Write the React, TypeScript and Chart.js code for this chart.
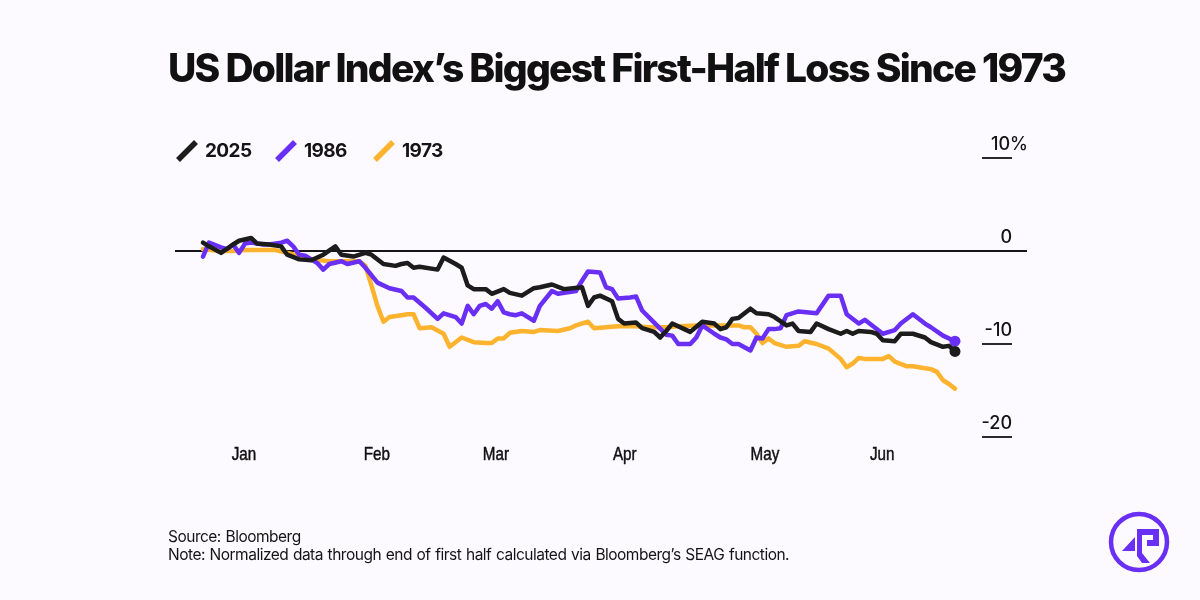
import React, { useEffect, useRef } from "react";
import { Chart, registerables } from "chart.js";

Chart.register(...registerables);

// ---------- data (trading-day index, % change) ----------
const seriesNames = ["2025", "1986", "1973"];

const days2025 = [0, 1, 3, 5, 6, 8, 9, 11, 13, 14, 16, 18, 20, 22, 23, 25, 27, 28, 30, 32, 33, 34, 35, 36, 39, 40, 42, 43, 44, 45, 47, 48, 50, 51, 53, 55, 56, 58, 60, 63, 64, 65, 66, 68, 69, 70, 72, 73, 75, 76, 77, 78, 80, 81, 83, 85, 86, 87, 88, 89, 91, 92, 94, 95, 97, 98, 99, 101, 102, 104, 106, 107, 108, 109, 111, 112, 113, 115, 116, 118, 120, 121, 123, 124, 125];
const values2025 = [0.9, 0.5, -0.2, 0.7, 1.1, 1.4, 0.8, 0.7, 0.5, -0.4, -0.9, -1.0, -0.4, 0.5, -0.4, -0.6, -0.2, -0.4, -1.4, -1.6, -1.4, -1.3, -1.8, -1.7, -2.0, -0.7, -1.4, -1.8, -3.7, -4.1, -4.1, -4.6, -4.1, -4.5, -4.8, -4.0, -3.9, -3.6, -4.1, -3.9, -5.9, -5.0, -4.8, -5.4, -7.3, -7.8, -7.7, -8.3, -8.7, -9.3, -8.6, -7.8, -8.4, -8.7, -7.6, -7.8, -8.4, -8.2, -7.3, -7.2, -6.2, -6.7, -6.8, -7.1, -8.0, -7.8, -8.6, -8.7, -7.8, -8.4, -8.9, -8.6, -8.9, -8.6, -8.7, -8.9, -9.6, -9.7, -8.9, -8.9, -9.3, -9.8, -10.3, -10.2, -10.8];

const days1986 = [0, 1, 3, 4, 5, 6, 7, 8, 10, 11, 13, 14, 15, 16, 17, 19, 20, 21, 23, 24, 26, 27, 29, 31, 33, 34, 35, 37, 39, 40, 42, 43, 44, 45, 46, 47, 48, 49, 50, 51, 52, 53, 55, 56, 58, 59, 62, 63, 64, 66, 67, 68, 69, 71, 72, 73, 75, 77, 78, 79, 81, 82, 83, 85, 86, 87, 88, 89, 91, 92, 93, 94, 95, 96, 97, 99, 102, 104, 106, 107, 109, 110, 113, 115, 116, 118, 120, 121, 123, 125];
const values1986 = [-0.6, 0.9, 0.4, 0.2, 0.7, -0.2, 0.8, 0.9, 0.7, 0.7, 0.9, 1.1, 0.5, -0.4, -0.5, -1.3, -2.0, -1.4, -1.1, -1.4, -1.1, -1.8, -3.4, -4.0, -4.3, -5.0, -5.0, -6.1, -7.3, -6.7, -7.1, -7.8, -5.9, -6.8, -5.9, -5.7, -6.2, -5.4, -6.6, -6.8, -6.9, -6.7, -7.5, -5.9, -4.3, -4.6, -4.3, -3.2, -2.2, -2.3, -3.9, -4.1, -5.1, -5.0, -4.9, -6.4, -7.7, -9.0, -9.1, -10.0, -10.0, -9.3, -8.0, -8.9, -9.3, -9.5, -10.0, -10.0, -10.7, -9.3, -9.4, -8.4, -8.4, -8.3, -6.9, -6.5, -6.7, -4.8, -4.8, -6.8, -7.8, -7.4, -8.9, -8.5, -7.8, -6.8, -7.8, -8.2, -9.1, -9.7];

const days1973 = [0, 3, 5, 7, 10, 12, 14, 16, 18, 21, 23, 25, 26, 27, 28, 29, 30, 31, 33, 34, 35, 36, 38, 40, 41, 43, 45, 47, 48, 49, 50, 51, 53, 55, 56, 59, 61, 62, 64, 65, 67, 69, 72, 74, 77, 79, 82, 85, 88, 89, 90, 91, 92, 93, 94, 95, 97, 99, 100, 102, 104, 106, 107, 108, 109, 110, 113, 114, 115, 117, 118, 120, 121, 122, 123, 124, 125];
const values1973 = [0.2, 0.0, 0.0, 0.1, 0.1, 0.1, -0.2, -0.5, -0.9, -1.1, -1.1, -1.1, -1.1, -1.6, -3.7, -5.9, -7.6, -7.1, -6.9, -6.8, -6.8, -8.3, -8.2, -8.9, -10.3, -9.3, -9.8, -9.9, -9.9, -9.4, -9.4, -8.8, -8.6, -8.7, -8.5, -8.6, -8.3, -8.0, -7.6, -8.3, -8.2, -8.1, -8.1, -8.2, -8.2, -8.1, -8.0, -8.0, -8.0, -8.0, -8.2, -8.2, -8.9, -9.9, -9.4, -9.9, -10.3, -10.2, -9.7, -10.0, -10.5, -11.6, -12.5, -12.1, -11.5, -11.6, -11.6, -11.3, -11.9, -12.4, -12.4, -12.6, -12.7, -13.0, -13.9, -14.3, -14.8];

const monthLabels = ["Jan", "Feb", "Mar", "Apr", "May", "Jun"];
const monthTickDays = [6.8, 28.9, 48.7, 70.1, 93.4, 112.9];

const yTickValues = [10, 0, -10, -20];
const yTickLabels = ["10%", "0", "-10", "-20"];

// ---------- style ----------
const COLOR_2025 = "#1c1c1c";
const COLOR_1986 = "#6a2ff5";
const COLOR_1973 = "#fdb32d";
const BG = "#fcfaff";
const SANS = "Inter, 'Noto Sans', sans-serif";

const decorPlugin = {
  id: "decor",
  beforeDatasetsDraw(chart: any) {
    const { ctx, chartArea, scales } = chart;
    const y0 = scales.y.getPixelForValue(0);
    ctx.save();
    ctx.strokeStyle = "#151515";
    ctx.lineWidth = 2;
    ctx.beginPath();
    ctx.moveTo(chartArea.left, y0);
    ctx.lineTo(chartArea.right, y0);
    ctx.stroke();
    ctx.restore();
  },
  afterDraw(chart: any) {
    const { ctx, chartArea, scales } = chart;
    const ys = scales.y;
    const xs = scales.x;
    ctx.save();
    const labelRight = chartArea.right - 15;
    ctx.font = `500 18px ${SANS}`;
    ctx.fillStyle = "#141414";
    ctx.textBaseline = "alphabetic";
    yTickValues.forEach((v, i) => {
      const py = ys.getPixelForValue(v);
      if (v !== 0) {
        ctx.strokeStyle = "#2a2a2a";
        ctx.lineWidth = 2;
        ctx.beginPath();
        ctx.moveTo(labelRight - 30, py);
        ctx.lineTo(labelRight, py);
        ctx.stroke();
      }
      const label = yTickLabels[i];
      ctx.textAlign = "right";
      const right = label.endsWith("%") ? chartArea.right + 1 : labelRight;
      ctx.fillText(label, right, py - 8);
    });
    ctx.fillStyle = "#111";
    ctx.textAlign = "center";
    ctx.textBaseline = "middle";
    ctx.font = `19px 'Liberation Sans', Arial, sans-serif`;
    monthLabels.forEach((m, i) => {
      const px = xs.getPixelForValue(monthTickDays[i]);
      ctx.save();
      ctx.translate(px, chartArea.bottom + 18);
      ctx.scale(0.8, 1);
      ctx.fillText(m, 0, 0);
      ctx.lineWidth = 0.5;
      ctx.strokeStyle = "#111";
      ctx.strokeText(m, 0, 0);
      ctx.restore();
    });
    ctx.restore();
  },
};

function toPoints(days: number[], values: number[]) {
  return days.map((d, i) => ({ x: d, y: values[i] }));
}

function LegendItem({ color, label, left }: { color: string; label: string; left: number }) {
  return (
    <div style={{ position: "absolute", left, top: 140, height: 22, display: "flex", alignItems: "center" }}>
      <svg width="22" height="22" style={{ display: "block" }}>
        <line x1="2" y1="20" x2="20" y2="2" stroke={color} strokeWidth="5.5" />
      </svg>
      <span
        style={{
          marginLeft: 7,
          fontFamily: SANS,
          fontWeight: 700,
          fontSize: 19,
          letterSpacing: -0.6,
          color: "#141414",
          lineHeight: "22px",
        }}
      >
        {label}
      </span>
    </div>
  );
}

export default function App() {
  const canvasRef = useRef<HTMLCanvasElement | null>(null);

  useEffect(() => {
    document.body.style.margin = "0";
    document.body.style.background = BG;
    const canvas = canvasRef.current;
    if (!canvas) return;
    const endRadius = (ctx: any) => (ctx.dataIndex === ctx.dataset.data.length - 1 ? 5.5 : 0);
    const chart = new Chart(canvas, {
      type: "line",
      data: {
        datasets: [
          {
            label: seriesNames[0],
            data: toPoints(days2025, values2025),
            borderColor: COLOR_2025,
            backgroundColor: COLOR_2025,
            pointRadius: endRadius,
            pointBackgroundColor: COLOR_2025,
          },
          {
            label: seriesNames[1],
            data: toPoints(days1986, values1986),
            borderColor: COLOR_1986,
            backgroundColor: COLOR_1986,
            pointRadius: endRadius,
            pointBackgroundColor: COLOR_1986,
          },
          {
            label: seriesNames[2],
            data: toPoints(days1973, values1973),
            borderColor: COLOR_1973,
            backgroundColor: COLOR_1973,
            pointRadius: 0,
          },
        ],
      },
      options: {
        animation: false,
        responsive: false,
        devicePixelRatio: 1,
        layout: { padding: { left: 175, right: 173, top: 158, bottom: 163 } },
        elements: {
          line: { tension: 0, borderWidth: 4.5, borderJoinStyle: "round", borderCapStyle: "round", fill: false },
          point: { borderWidth: 0, hoverRadius: 0 },
        },
        scales: {
          x: { type: "linear", min: -4.65, max: 136.97, display: false },
          y: { type: "linear", min: -20, max: 10, display: false },
        },
        plugins: { legend: { display: false }, tooltip: { enabled: false } },
        events: [],
      },
      plugins: [decorPlugin],
    });
    return () => chart.destroy();
  }, []);

  return (
    <div style={{ position: "relative", width: 1200, height: 600, background: BG, overflow: "hidden" }}>
      <canvas ref={canvasRef} width={1200} height={600} style={{ position: "absolute", left: 0, top: 0, width: 1200, height: 600 }} />
      <div
        style={{
          position: "absolute",
          left: 168,
          top: 46,
          fontFamily: SANS,
          fontWeight: 800,
          fontSize: 39,
          letterSpacing: -1.75,
          lineHeight: "44px",
          color: "#111",
          whiteSpace: "nowrap",
        }}
      >
        US Dollar Index’s Biggest First-Half Loss Since 1973
      </div>
      <LegendItem color={COLOR_2025} label={seriesNames[0]} left={176} />
      <LegendItem color={COLOR_1986} label={seriesNames[1]} left={275} />
      <LegendItem color={COLOR_1973} label={seriesNames[2]} left={373} />
      <div
        style={{
          position: "absolute",
          left: 168,
          top: 528,
          fontFamily: SANS,
          fontSize: 15.5,
          letterSpacing: -0.5,
          wordSpacing: 0.8,
          lineHeight: "18px",
          color: "#141414",
          whiteSpace: "nowrap",
        }}
      >
        <div>Source: Bloomberg</div>
        <div>Note: Normalized data through end of first half calculated via Bloomberg’s SEAG function.</div>
      </div>
      <svg width="64" height="64" viewBox="-32 -32 64 64" style={{ position: "absolute", left: 1107, top: 510 }}>
        <circle cx="0" cy="0" r="28" fill="none" stroke={COLOR_1986} strokeWidth="4.5" />
        <polygon points="-17,9 -4,-5 -4,9" fill={COLOR_1986} />
        <polygon
          points="-2,-13 20,-13 20,4 8,4 8,-2 14,-2 14,-7 3,-7 3,11 11,21 3,21 -2,14"
          fill={COLOR_1986}
        />
      </svg>
    </div>
  );
}
